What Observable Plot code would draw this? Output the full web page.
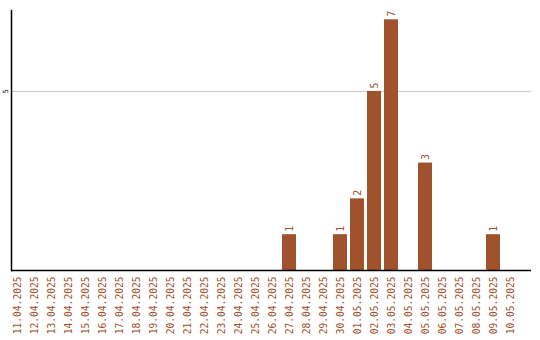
<!DOCTYPE html>
<html>
<head>
<meta charset="utf-8">
<script src="https://cdn.jsdelivr.net/npm/d3@7"></script>
<script src="https://cdn.jsdelivr.net/npm/@observablehq/plot@0.6"></script>
<style>
  html, body { margin: 0; padding: 0; background: #fff; }
</style>
</head>
<body>
<div id="chart"></div>
<script>
const dates = ["11.04.2025","12.04.2025","13.04.2025","14.04.2025","15.04.2025","16.04.2025","17.04.2025","18.04.2025","19.04.2025","20.04.2025","21.04.2025","22.04.2025","23.04.2025","24.04.2025","25.04.2025","26.04.2025","27.04.2025","28.04.2025","29.04.2025","30.04.2025","01.05.2025","02.05.2025","03.05.2025","04.05.2025","05.05.2025","06.05.2025","07.05.2025","08.05.2025","09.05.2025","10.05.2025"];
const counts = [0,0,0,0,0,0,0,0,0,0,0,0,0,0,0,0,1,0,0,1,2,5,7,0,3,0,0,0,1,0];
const yTicks = [5];

const data = dates.map((d, i) => ({date: d, count: counts[i]}));
const labeled = data.filter(d => d.count > 0);
const barColor = "#a0522d";
const font = "DejaVu Sans Mono, monospace";

const chart = Plot.plot({
  width: 540,
  height: 340,
  marginLeft: 11,
  marginRight: 9,
  marginTop: 10,
  marginBottom: 70,
  style: {fontFamily: font, background: "#fff"},
  x: {domain: dates, range: [8.5, 518.5], paddingInner: 0.18, paddingOuter: 0.09, axis: null, label: null},
  y: {domain: [0, 7.26], axis: null, label: null},
  marks: [
    Plot.gridY(yTicks, {stroke: "#c8c8c8", strokeOpacity: 1}),
    Plot.barY(data, {x: "date", y: "count", fill: barColor}),
    Plot.text(labeled, {x: "date", y: "count", text: d => String(d.count), rotate: -90, textAnchor: "start", dy: -3, fill: barColor, fontSize: 10, fontFamily: font}),
    Plot.axisX({tickSize: 0, tickRotate: -90, tickPadding: 6, fontSize: 9.6, fill: barColor, fontFamily: font, label: null}),
    Plot.axisY(yTicks, {tickSize: 0, tickRotate: -90, tickPadding: 4, fontSize: 7, fill: "#000", label: null}),
    Plot.ruleY([0], {stroke: "#000", strokeWidth: 1.5}),
    Plot.frame({anchor: "left", stroke: "#000", strokeWidth: 1.5})
  ]
});
document.getElementById("chart").appendChild(chart);
</script>
</body>
</html>
